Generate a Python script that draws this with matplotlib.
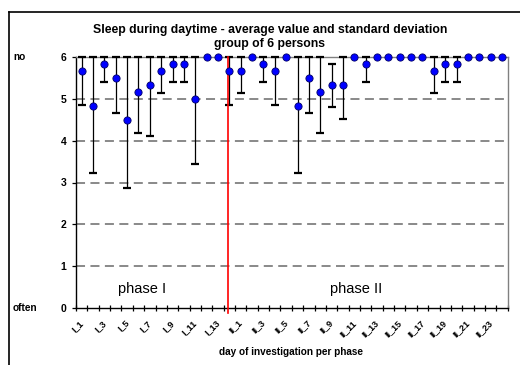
import numpy as np
import matplotlib
matplotlib.use("Agg")
import matplotlib.pyplot as plt
from matplotlib.lines import Line2D

plt.rcParams['font.family'] = ['Liberation Sans', 'DejaVu Sans']

# days: phase I has 14 days, phase II has 24 days
days = ['I_%d' % i for i in range(1, 15)] + ['II_%d' % i for i in range(1, 25)]

# average value (6 = no, 0 = often)
means = [5.67, 4.83, 5.83, 5.5, 4.5, 5.17, 5.33, 5.67, 5.83, 5.83, 5.0, 6.0, 6.0, 5.67,
         5.67, 6.0, 5.83, 5.67, 6.0, 4.83, 5.5, 5.17, 5.33, 5.33, 6.0, 5.83,
         6.0, 6.0, 6.0, 6.0, 6.0, 5.67, 5.83, 5.83, 6.0, 6.0, 6.0, 6.0]

# standard deviation
sds = [0.82, 1.60, 0.41, 0.84, 1.64, 0.98, 1.21, 0.52, 0.41, 0.41, 1.55, 0.0, 0.0, 0.82,
       0.52, 0.0, 0.41, 0.82, 0.0, 1.60, 0.84, 0.98, 0.52, 0.82, 0.0, 0.41,
       0.0, 0.0, 0.0, 0.0, 0.0, 0.52, 0.41, 0.41, 0.0, 0.0, 0.0, 0.0]

phase_split = 12.86  # red separator line, in category units

W, H = 520, 365
fig = plt.figure(figsize=(W / 100, H / 100), dpi=100)
ax = fig.add_axes([76 / W, (H - 307.7) / H, (507.7 - 76) / W, (307.7 - 57.3) / H])

x = np.arange(len(days))
m = np.array(means)
s = np.array(sds)
upper = np.minimum(s, 6 - m)   # bars are cut at the top of the scale

# dashed gridlines
for yv in range(1, 6):
    ax.axhline(yv, color='#808080', lw=1.3, ls=(0, (5, 3)), zorder=1)

has = s > 0
ax.errorbar(x[has], m[has], yerr=[s[has], upper[has]], fmt='none',
            ecolor='black', elinewidth=0.9, capsize=2.6, capthick=1.6,
            zorder=3, clip_on=False)
ax.plot(x, m, 'o', color='#0000FF', mec='#000066', mew=0.6, ms=5.2,
        zorder=5, clip_on=False)

ax.plot([phase_split, phase_split], [6, -0.13], color='#FF0000', lw=1.2,
        zorder=4, clip_on=False)

ax.set_xlim(-0.5, len(days) - 0.5)
ax.set_ylim(0, 6)

ax.set_yticks(range(0, 7))
ax.set_yticklabels([str(i) for i in range(0, 7)], fontsize=7.5, fontweight='bold')
ax.tick_params(axis='y', direction='out', length=3, width=0.9, pad=4)

# ticks at category boundaries, labels at every other day
ax.set_xticks(np.arange(-0.5, len(days) + 0.5, 1.0))
ax.set_xticklabels([])
ax.tick_params(axis='x', direction='inout', length=5, width=0.9)
lab_idx = list(range(0, 14, 2)) + list(range(14, len(days), 2))
for i in lab_idx:
    ax.text(x[i] - 0.25, -0.25, days[i], rotation=45, ha='right', va='top',
            fontsize=6.5, fontweight='bold', rotation_mode='anchor')

for side in ['left', 'bottom']:
    ax.spines[side].set_color('black')
    ax.spines[side].set_linewidth(1.0)
for side in ['top', 'right']:
    ax.spines[side].set_color('#808080')
    ax.spines[side].set_linewidth(1.0)

ax.text(5.3, 0.45, 'phase I', fontsize=10.5, ha='center', va='center')
ax.text(24.2, 0.45, 'phase II', fontsize=10.5, ha='center', va='center')

fig.text(270 / W, 1 - 30 / H, 'Sleep during daytime - average value and standard deviation',
         ha='center', va='center', fontsize=8.8, fontweight='bold')
fig.text(270 / W, 1 - 44 / H, 'group of 6 persons',
         ha='center', va='center', fontsize=8.8, fontweight='bold')
fig.text(291 / W, 1 - 352 / H, 'day of investigation per phase',
         ha='center', va='center', fontsize=7.2, fontweight='bold')
fig.text(13 / W, 1 - 57 / H, 'no', ha='left', va='center', fontsize=7.3, fontweight='bold')
fig.text(13 / W, 1 - 308 / H, 'often', ha='left', va='center', fontsize=7.3, fontweight='bold')

# outer chart frame (partly cut off at right and bottom)
fig.add_artist(Line2D([9 / W, 9 / W], [0, 1 - 12 / H], color='black', lw=1.2,
                      transform=fig.transFigure))
fig.add_artist(Line2D([9 / W, 1], [1 - 12 / H, 1 - 12 / H], color='black', lw=1.2,
                      transform=fig.transFigure))

fig.savefig('out.png', dpi=100)
